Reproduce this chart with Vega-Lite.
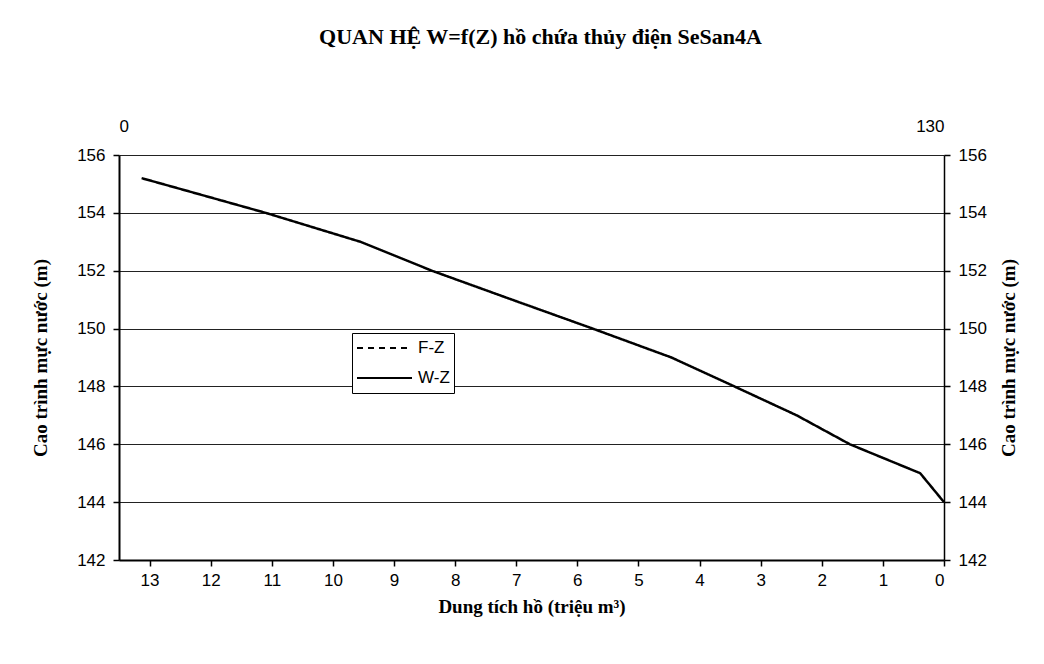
{
  "$schema": "https://vega.github.io/schema/vega-lite/v6.json",
  "width": 825,
  "height": 405,
  "autosize": {"type": "none"},
  "padding": {"left": 119, "top": 155, "right": 100, "bottom": 104},
  "background": "white",
  "title": {
    "text": "QUAN HỆ W=f(Z) hồ chứa thủy điện SeSan4A",
    "font": "Liberation Serif",
    "fontSize": 22,
    "fontWeight": "bold",
    "anchor": "middle",
    "color": "black",
    "offset": 68,
    "dx": 9
  },
  "data": {
    "values": [
      {"series": "W-Z", "W": 13.13, "Z": 155.2},
      {"series": "W-Z", "W": 12.79, "Z": 155},
      {"series": "W-Z", "W": 11.1, "Z": 154},
      {"series": "W-Z", "W": 9.55, "Z": 153},
      {"series": "W-Z", "W": 8.38, "Z": 152},
      {"series": "W-Z", "W": 7.07, "Z": 151},
      {"series": "W-Z", "W": 5.75, "Z": 150},
      {"series": "W-Z", "W": 4.46, "Z": 149},
      {"series": "W-Z", "W": 3.43, "Z": 148},
      {"series": "W-Z", "W": 2.41, "Z": 147},
      {"series": "W-Z", "W": 1.54, "Z": 146},
      {"series": "W-Z", "W": 0.39, "Z": 145},
      {"series": "W-Z", "W": 0, "Z": 144}
    ]
  },
  "config": {
    "view": {"stroke": null},
    "axis": {
      "labelFont": "Liberation Sans",
      "labelFontSize": 17,
      "labelColor": "black",
      "titleFont": "Liberation Serif",
      "titleFontSize": 19,
      "titleFontWeight": "bold",
      "titleColor": "black",
      "domainColor": "black",
      "tickColor": "black",
      "gridColor": "#222222",
      "gridWidth": 1
    }
  },
  "layer": [
    {
      "mark": {"type": "line", "color": "black", "strokeWidth": 2.5},
      "encoding": {
        "x": {
          "field": "W",
          "type": "quantitative",
          "scale": {"domain": [0, 13.5], "reverse": true, "nice": false, "zero": false},
          "axis": {
            "orient": "bottom",
            "values": [0, 1, 2, 3, 4, 5, 6, 7, 8, 9, 10, 11, 12, 13],
            "format": "d",
            "grid": false,
            "domainWidth": 2,
            "tickSize": 6,
            "tickWidth": 1.5,
            "labelPadding": 6,
            "title": "Dung tích hồ (triệu m³)",
            "titlePadding": 9
          }
        },
        "y": {
          "field": "Z",
          "type": "quantitative",
          "scale": {"domain": [142, 156], "nice": false, "zero": false},
          "axis": {
            "orient": "left",
            "values": [142, 144, 146, 148, 150, 152, 154, 156],
            "grid": true,
            "domainWidth": 2,
            "tickSize": 6,
            "tickWidth": 1.5,
            "labelPadding": 8,
            "title": "Cao trình mực nước (m)",
            "titlePadding": 26
          }
        },
        "strokeDash": {
          "field": "series",
          "type": "nominal",
          "scale": {"domain": ["F-Z", "W-Z"], "range": [[6, 5], [1, 0]]},
          "legend": {
            "orient": "none",
            "legendX": 233,
            "legendY": 178,
            "title": null,
            "symbolType": "stroke",
            "symbolSize": 3025,
            "symbolStrokeWidth": 2,
            "symbolStrokeColor": "black",
            "labelFont": "Liberation Sans",
            "labelFontSize": 17,
            "labelColor": "black",
            "strokeColor": "black",
            "fillColor": "white",
            "padding": 4,
            "clipHeight": 22,
            "rowPadding": 8,
            "labelOffset": 5
          }
        }
      }
    },
    {
      "mark": {"type": "point", "opacity": 0},
      "encoding": {
        "x": {
          "datum": 0,
          "type": "quantitative",
          "scale": {"domain": [0, 130], "nice": false, "zero": false},
          "axis": {
            "orient": "top",
            "values": [0, 130],
            "ticks": false,
            "domain": false,
            "grid": false,
            "labelPadding": 20,
            "title": null
          }
        },
        "y": {
          "field": "Z",
          "type": "quantitative",
          "scale": {"domain": [142, 156], "nice": false, "zero": false},
          "axis": {
            "orient": "right",
            "values": [142, 144, 146, 148, 150, 152, 154, 156],
            "grid": false,
            "domainWidth": 1.5,
            "tickSize": 6,
            "tickWidth": 1.5,
            "labelPadding": 8,
            "title": "Cao trình mực nước (m)",
            "titleAngle": -90,
            "titlePadding": 32
          }
        }
      }
    }
  ],
  "resolve": {"scale": {"x": "independent", "y": "independent"}}
}
